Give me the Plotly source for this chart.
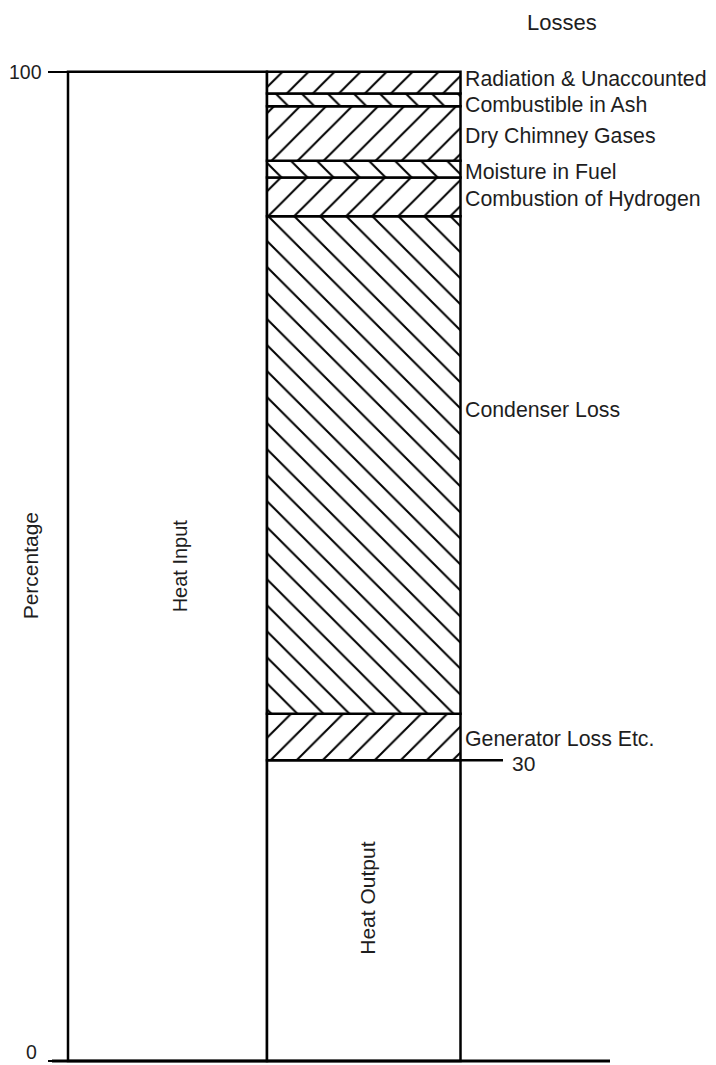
import numpy as np
import plotly.graph_objects as go

# ---- data ----
segments = ["Heat Output", "Generator Loss Etc.", "Condenser Loss", "Combustion of Hydrogen",
            "Moisture in Fuel", "Dry Chimney Gases", "Combustible in Ash", "Radiation & Unaccounted"]
values = [30.4, 4.7, 50.3, 3.9, 1.7, 5.5, 1.3, 2.2]
hatches = ["", "/", "\\", "/", "\\", "/", "\\", "/"]
heat_input = [100]
loss_labels = ["Radiation & Unaccounted", "Combustible in Ash", "Dry Chimney Gases",
               "Moisture in Fuel", "Combustion of Hydrogen", "Condenser Loss", "Generator Loss Etc."]
label_y = [99.3, 96.6, 93.5, 89.9, 87.1, 65.8, 32.6]
tick_vals = [0, 100]
tick_text = ["0", "100"]
output_mark = "30"

FONT = "Liberation Sans, Arial, sans-serif"
TXT = "#1e1e1e"
W, H = 716, 1065
OFF = 8  # page body margin

bases = np.concatenate([[0], np.cumsum(values)[:-1]])

fig = go.Figure()
# Heat input column
fig.add_trace(go.Bar(
    x=[167.5], y=heat_input, width=[199], base=[0],
    marker=dict(color="white", line=dict(color="black", width=2.5)),
    hoverinfo="skip", showlegend=False))
# Losses / output stacked column
for name, v, b, h in zip(segments, values, bases, hatches):
    fig.add_trace(go.Bar(
        x=[363.75], y=[v], base=[b], width=[193.5], name=name,
        marker=dict(color="white", line=dict(color="black", width=2.5),
                    pattern=dict(shape=h, fgcolor="black", fgopacity=1, size=18.4,
                                 solidity=0.11, fillmode="overlay")),
        hoverinfo="skip", showlegend=False))

shapes = [
    dict(type="line", xref="x", yref="y", x0=52, x1=610, y0=0, y1=0,
         line=dict(color="black", width=3)),
    dict(type="line", xref="x", yref="y", x0=460.5, x1=503, y0=values[0], y1=values[0],
         line=dict(color="black", width=2.5)),
]

ann = []
for t, yv in zip(loss_labels, label_y):
    ann.append(dict(x=463, y=yv, xref="x", yref="y", text=t, showarrow=False,
                    xanchor="left", yanchor="middle", font=dict(size=21.3, color=TXT, family=FONT)))
ann.append(dict(x=510, y=values[0] - 0.35, xref="x", yref="y", text=output_mark, showarrow=False,
                xanchor="left", yanchor="middle", font=dict(size=21, color=TXT, family=FONT)))
ann.append(dict(x=562, y=105.0, xref="x", yref="y", text="Losses", showarrow=False,
                xanchor="center", yanchor="middle", font=dict(size=22, color=TXT, family=FONT)))
ann.append(dict(x=30, y=50, xref="x", yref="y", text="Percentage", showarrow=False, textangle=-90,
                xanchor="center", yanchor="middle", font=dict(size=21, color=TXT, family=FONT)))
ann.append(dict(x=180, y=50, xref="x", yref="y", text="Heat Input", showarrow=False, textangle=-90,
                xanchor="center", yanchor="middle", font=dict(size=20, color=TXT, family=FONT)))
ann.append(dict(x=368, y=16.4, xref="x", yref="y", text="Heat Output", showarrow=False, textangle=-90,
                xanchor="center", yanchor="middle", font=dict(size=21, color=TXT, family=FONT)))
# axis tick labels (kept as annotations so the "0" stays inside the page)
ann.append(dict(x=44, y=tick_vals[1], xref="x", yref="y", text=tick_text[1], showarrow=False,
                xanchor="right", yanchor="middle", font=dict(size=19.5, color=TXT, family=FONT)))
ann.append(dict(x=39, y=tick_vals[0], xref="x", yref="y", text=tick_text[0], showarrow=False,
                xanchor="right", yanchor="bottom", yshift=-4,
                font=dict(size=19.5, color=TXT, family=FONT)))

span = 107.65
ymax = 100 + (71.7 - OFF) * span / H
fig.update_layout(
    width=W, height=H, autosize=False,
    margin=dict(l=0, r=0, t=0, b=0, pad=0),
    paper_bgcolor="white", plot_bgcolor="white",
    barmode="overlay",
    xaxis=dict(range=[OFF, W + OFF], visible=False, fixedrange=True),
    yaxis=dict(range=[ymax - span, ymax], anchor="free", position=(68 - OFF) / W,
               showline=False, showgrid=False, zeroline=False,
               ticks="outside", ticklen=20, tickwidth=2, tickcolor="black",
               tickvals=tick_vals, showticklabels=False),
    shapes=shapes, annotations=ann,
    font=dict(family=FONT),
)

fig.write_html("out.html")
